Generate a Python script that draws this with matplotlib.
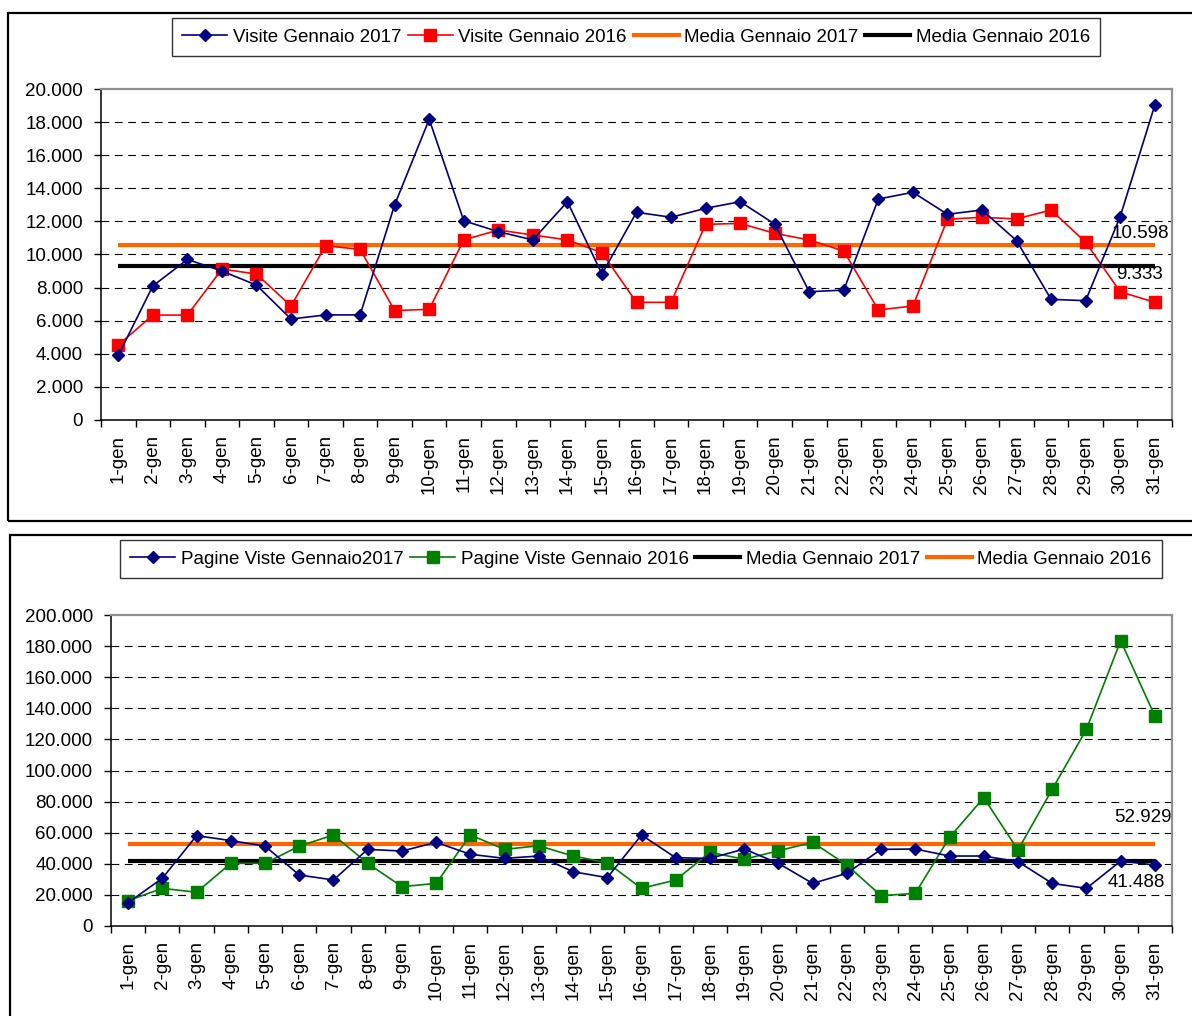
import matplotlib
matplotlib.use("Agg")
import matplotlib.pyplot as plt
from matplotlib.patches import Rectangle
from matplotlib.ticker import FuncFormatter, FixedLocator
from matplotlib.lines import Line2D

plt.rcParams['font.family'] = ['Liberation Sans', 'DejaVu Sans']

# ---------------- data ----------------
days = [f"{i}-gen" for i in range(1, 32)]

visite_2017 = [3900, 8100, 9700, 9000, 8150, 6100, 6350, 6350, 13000, 18170,
               12040, 11380, 10880, 13190, 8820, 12550, 12250, 12790, 13190, 11840,
               7750, 7850, 13350, 13760, 12430, 12690, 10840, 7290, 7210, 12290, 19010]
visite_2016 = [4530, 6340, 6340, 9120, 8820, 6890, 10530, 10310, 6610, 6690,
               10880, 11480, 11180, 10880, 10110, 7110, 7110, 11820, 11880, 11280,
               10880, 10210, 6650, 6890, 12130, 12250, 12150, 12690, 10740, 7750, 7110]
media_visite_2017 = 10598
media_visite_2016 = 9333

pagine_2017 = [15000, 30700, 58100, 54900, 51400, 32800, 29600, 49300, 48200, 53800,
               46100, 43500, 45000, 34900, 31100, 58500, 43900, 43500, 49500, 40300,
               27400, 33900, 49300, 49500, 45000, 45000, 41400, 27400, 24200, 41800, 39200]
pagine_2016 = [16300, 24200, 21700, 40300, 40300, 51400, 58500, 40300, 25300, 27400,
               58500, 49300, 51600, 45000, 40700, 24200, 29600, 47400, 42900, 48400,
               53800, 39200, 19500, 21000, 57000, 82500, 48900, 87900, 126500, 183500, 135000]
media_pagine_2017 = 41488
media_pagine_2016 = 52929

top_ticks = list(range(0, 20001, 2000))
bot_ticks = list(range(0, 200001, 20000))

# ---------------- layout helpers ----------------
W, H = 1192, 1016
fig = plt.figure(figsize=(W / 100, H / 100), dpi=100)

def px_axes(l, t, r, b):
    return fig.add_axes([l / W, 1 - b / H, (r - l) / W, (b - t) / H])

def px_rect(l, t, r, b, **kw):
    fig.patches.append(Rectangle((l / W, 1 - b / H), (r - l) / W, (b - t) / H,
                                 transform=fig.transFigure, fill=False, **kw))

def fmt_it(v, pos=None):
    return f"{int(round(v)):,}".replace(",", ".")

FS = 13.5
NAVY = '#000080'
RED = '#FF0000'
GREEN = '#008000'
ORANGE = '#FF6600'

px_rect(8, 13, 1205, 521, ec='black', lw=1.6)
px_rect(10, 535, 1205, 1030, ec='black', lw=1.6)

def style_axes(ax, ticks, ymax):
    n = len(days)
    x = list(range(n))
    ax.set_xlim(-0.5, n - 0.5)
    ax.set_ylim(0, ymax)
    ax.set_yticks(ticks)
    ax.yaxis.set_major_formatter(FuncFormatter(fmt_it))
    ax.set_xticks(x)
    ax.set_xticklabels(days, rotation=90, fontsize=FS)
    ax.xaxis.set_minor_locator(FixedLocator([i - 0.5 for i in range(n + 1)]))
    ax.tick_params(axis='x', which='major', length=0, pad=11)
    ax.tick_params(axis='x', which='minor', length=5, width=1, direction='out', color='black')
    ax.tick_params(axis='y', length=5, width=1, direction='out', labelsize=FS, pad=8)
    for v in ticks[1:-1]:
        ax.axhline(v, color='black', lw=0.8, linestyle=(0, (7, 5)), zorder=1)
    ax.spines['left'].set_color('black')
    ax.spines['bottom'].set_color('black')
    ax.spines['left'].set_linewidth(1.1)
    ax.spines['bottom'].set_linewidth(1.1)
    ax.spines['top'].set_color('#909090')
    ax.spines['right'].set_color('#909090')
    ax.spines['top'].set_linewidth(1.6)
    ax.spines['right'].set_linewidth(1.6)
    return x

def make_legend(center, handles, labels):
    leg = fig.legend(handles, labels, loc='center', bbox_to_anchor=(center[0] / W, 1 - center[1] / H),
                     ncol=4, fontsize=FS, frameon=True, fancybox=False, edgecolor='black',
                     handlelength=2.4, handletextpad=0.3, columnspacing=0.35, borderpad=0.55,
                     borderaxespad=0)
    leg.get_frame().set_linewidth(1.0)
    return leg

DMS = 6.3

# ---------------- top chart ----------------
ax1 = px_axes(101, 89, 1172, 420)
x = style_axes(ax1, top_ticks, 20000)
ax1.plot(x, [media_visite_2017] * len(x), color=ORANGE, lw=3, zorder=2, solid_capstyle='butt')
ax1.plot(x, [media_visite_2016] * len(x), color='black', lw=3, zorder=2, solid_capstyle='butt')
ax1.plot(x, visite_2016, color=RED, lw=1.2, marker='s', ms=8.5, mec=RED, mfc=RED, zorder=3)
ax1.plot(x, visite_2017, color=NAVY, lw=1.2, marker='D', ms=DMS, mec=NAVY, mfc=NAVY, zorder=4)
ax1.annotate(fmt_it(media_visite_2017), (x[-1], media_visite_2017), xytext=(14, 11),
             textcoords='offset pixels', ha='right', va='center', fontsize=FS)
ax1.annotate(fmt_it(media_visite_2016), (x[-1], media_visite_2016), xytext=(-15, -9),
             textcoords='offset pixels', ha='center', va='center', fontsize=FS)

h1 = [Line2D([], [], color=NAVY, lw=1.2, marker='D', ms=DMS),
      Line2D([], [], color=RED, lw=1.2, marker='s', ms=8.5),
      Line2D([], [], color=ORANGE, lw=3),
      Line2D([], [], color='black', lw=3)]
make_legend((636, 37), h1, ["Visite Gennaio 2017", "Visite Gennaio 2016",
                            "Media Gennaio 2017", "Media Gennaio 2016"])

# ---------------- bottom chart ----------------
ax2 = px_axes(111, 615, 1172, 926)
x = style_axes(ax2, bot_ticks, 200000)
ax2.plot(x, [media_pagine_2016] * len(x), color=ORANGE, lw=3, zorder=2, solid_capstyle='butt')
ax2.plot(x, [media_pagine_2017] * len(x), color='black', lw=3, zorder=2, solid_capstyle='butt')
ax2.plot(x, pagine_2016, color=GREEN, lw=1.2, marker='s', ms=8, mec=GREEN, mfc=GREEN, zorder=3)
ax2.plot(x, pagine_2017, color=NAVY, lw=1.2, marker='D', ms=DMS, mec=NAVY, mfc=NAVY, zorder=4)
ax2.annotate(fmt_it(media_pagine_2016), (x[-1], media_pagine_2016), xytext=(17, 26),
             textcoords='offset pixels', ha='right', va='center', fontsize=FS)
ax2.annotate(fmt_it(media_pagine_2017), (x[-1], media_pagine_2017), xytext=(-19, -21),
             textcoords='offset pixels', ha='center', va='center', fontsize=FS)

h2 = [Line2D([], [], color=NAVY, lw=1.2, marker='D', ms=DMS),
      Line2D([], [], color=GREEN, lw=1.2, marker='s', ms=8),
      Line2D([], [], color='black', lw=3),
      Line2D([], [], color=ORANGE, lw=3)]
make_legend((641, 559), h2, ["Pagine Viste Gennaio2017", "Pagine Viste Gennaio 2016",
                             "Media Gennaio 2017", "Media Gennaio 2016"])

fig.savefig("out.png", dpi=100)
